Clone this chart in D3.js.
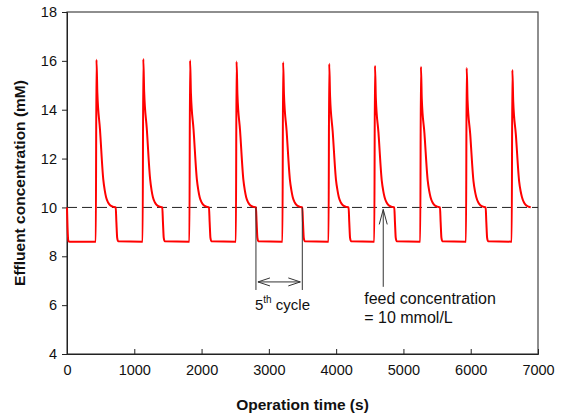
<!DOCTYPE html>
<html>
<head>
<meta charset="utf-8">
<script src="https://cdn.jsdelivr.net/npm/d3@7"></script>
<style>
  body { margin: 0; background: #fff; }
  svg { font-family: Arial, "Liberation Sans", sans-serif; }
</style>
</head>
<body>
<div id="chart"></div>
<script>
// effluent concentration (mM) vs operation time (s)
const effluent = [
  [0, 10.0], [8, 9.2], [20, 8.62], [40, 8.6],
  [428, 8.6], [438, 16.05], [451, 14.7], [490, 13.2], [539, 11.15], [561, 10.7], [581, 10.42], [611, 10.2], [641, 10.09], [681, 10.03], [724, 10.0], [734, 9.4], [746, 8.75], [759, 8.62],
  [1124, 8.6], [1134, 16.08], [1147, 14.73], [1186, 13.22], [1235, 11.17], [1257, 10.7], [1277, 10.42], [1307, 10.2], [1337, 10.09], [1377, 10.03], [1416, 10.0], [1426, 9.4], [1438, 8.75], [1451, 8.62],
  [1819, 8.6], [1829, 16.02], [1842, 14.67], [1881, 13.18], [1930, 11.15], [1952, 10.7], [1972, 10.42], [2002, 10.2], [2032, 10.09], [2072, 10.03], [2110, 10.0], [2120, 9.4], [2132, 8.75], [2145, 8.62],
  [2510, 8.6], [2520, 15.97], [2533, 14.62], [2572, 13.15], [2621, 11.14], [2643, 10.7], [2663, 10.42], [2693, 10.2], [2723, 10.09], [2763, 10.03], [2808, 10.0], [2818, 9.4], [2830, 8.75], [2843, 8.62],
  [3202, 8.6], [3212, 15.94], [3225, 14.6], [3264, 13.13], [3313, 11.13], [3335, 10.7], [3355, 10.42], [3385, 10.2], [3415, 10.09], [3455, 10.03], [3497, 10.0], [3507, 9.4], [3519, 8.75], [3532, 8.62],
  [3887, 8.6], [3897, 15.88], [3910, 14.55], [3949, 13.1], [3998, 11.12], [4020, 10.7], [4040, 10.42], [4070, 10.2], [4100, 10.09], [4140, 10.03], [4185, 10.0], [4195, 9.4], [4207, 8.75], [4220, 8.62],
  [4567, 8.6], [4577, 15.8], [4590, 14.48], [4629, 13.06], [4678, 11.1], [4700, 10.68], [4720, 10.42], [4750, 10.2], [4780, 10.09], [4820, 10.03], [4864, 10.0], [4874, 9.4], [4886, 8.75], [4899, 8.62],
  [5250, 8.6], [5260, 15.76], [5273, 14.44], [5312, 13.04], [5361, 11.1], [5383, 10.68], [5403, 10.42], [5433, 10.2], [5463, 10.09], [5503, 10.03], [5543, 10.0], [5553, 9.4], [5565, 8.75], [5578, 8.62],
  [5930, 8.6], [5940, 15.71], [5953, 14.4], [5992, 13.02], [6041, 11.08], [6063, 10.67], [6083, 10.42], [6113, 10.2], [6143, 10.09], [6183, 10.03], [6222, 10.0], [6232, 9.4], [6244, 8.75], [6257, 8.62],
  [6609, 8.6], [6619, 15.63], [6632, 14.33], [6671, 12.98], [6720, 11.06], [6742, 10.66], [6762, 10.42], [6792, 10.2], [6822, 10.09], [6862, 10.03], [6892, 10.01]
];
const feedConc = 10;
const xTicks = [0, 1000, 2000, 3000, 4000, 5000, 6000, 7000];
const yTicks = [4, 6, 8, 10, 12, 14, 16, 18];
const cycleBounds = [2808, 3497]; // 5th cycle
const feedArrowT = 4700;

const size = { width: 562, height: 414 };
const margin = { top: 12, right: 24, bottom: 60, left: 67 };
const font = "Arial, 'Liberation Sans', sans-serif";

const svg = d3.select("#chart").append("svg")
  .attr("width", size.width)
  .attr("height", size.height);

const x = d3.scaleLinear().domain([0, 7000]).range([margin.left, size.width - margin.right]);
const y = d3.scaleLinear().domain([4, 18]).range([size.height - margin.bottom, margin.top]);

// frame
svg.append("rect")
  .attr("x", x(0)).attr("y", y(18))
  .attr("width", x(7000) - x(0)).attr("height", y(4) - y(18))
  .attr("fill", "none").attr("stroke", "#444").attr("stroke-width", 1.2);

// axes
svg.append("g")
  .attr("transform", `translate(0,${y(4)})`)
  .call(d3.axisBottom(x).tickValues(xTicks).tickSize(-5).tickPadding(11).tickFormat(d3.format("d")))
  .call(g => g.select(".domain").attr("stroke", "#222"))
  .call(g => g.selectAll("line").attr("stroke", "#222"))
  .call(g => g.selectAll("text").attr("font-size", 14.5).attr("fill", "#111").attr("font-family", font));

svg.append("g")
  .attr("transform", `translate(${x(0)},0)`)
  .call(d3.axisLeft(y).tickValues(yTicks).tickSize(5).tickPadding(5))
  .call(g => g.select(".domain").attr("stroke", "#222"))
  .call(g => g.selectAll("line").attr("stroke", "#222"))
  .call(g => g.selectAll("text").attr("font-size", 14.5).attr("fill", "#111").attr("font-family", font));

// feed line
svg.append("line")
  .attr("x1", x(0)).attr("x2", x(7000))
  .attr("y1", y(feedConc)).attr("y2", y(feedConc))
  .attr("stroke", "#222").attr("stroke-width", 1)
  .attr("stroke-dasharray", "10,5");

// effluent curve
const line = d3.line()
  .x(d => x(d[0]))
  .y(d => y(d[1]))
  .curve(d3.curveMonotoneX);

svg.append("path")
  .datum(effluent)
  .attr("d", line)
  .attr("fill", "none")
  .attr("stroke", "#ff0000")
  .attr("stroke-width", 2)
  .attr("stroke-linejoin", "round");

// 5th cycle bracket
const ann = svg.append("g").attr("stroke", "#333").attr("stroke-width", 1).attr("fill", "none");
cycleBounds.forEach(t => {
  ann.append("line")
    .attr("x1", x(t)).attr("x2", x(t))
    .attr("y1", y(feedConc)).attr("y2", y(6.62));
});
const ay = y(6.95);
const xa = x(cycleBounds[0]) + 2, xb = x(cycleBounds[1]) - 2;
ann.append("line").attr("x1", xa).attr("x2", xb).attr("y1", ay).attr("y2", ay);
ann.append("path").attr("d", `M${xa + 12},${ay - 4}L${xa},${ay}L${xa + 12},${ay + 4}`);
ann.append("path").attr("d", `M${xb - 12},${ay - 4}L${xb},${ay}L${xb - 12},${ay + 4}`);

// feed arrow
const fx = x(feedArrowT);
ann.append("line").attr("x1", fx).attr("x2", fx).attr("y1", y(feedConc) + 2).attr("y2", y(6.75));
ann.append("path").attr("d", `M${fx - 4},${y(feedConc) + 17}L${fx},${y(feedConc) + 2}L${fx + 4},${y(feedConc) + 17}`);

// annotation text
const cyc = svg.append("text")
  .attr("x", x(cycleBounds[0]) - 1).attr("y", 310)
  .attr("font-size", 15).attr("fill", "#111");
cyc.append("tspan").text("5");
cyc.append("tspan").attr("font-size", 10).attr("dy", -7).text("th");
cyc.append("tspan").attr("dy", 7).text(" cycle");

svg.append("text")
  .attr("x", fx - 19).attr("y", 304)
  .attr("font-size", 16).attr("fill", "#111")
  .text("feed concentration");
svg.append("text")
  .attr("x", fx - 19).attr("y", 323)
  .attr("font-size", 16).attr("fill", "#111")
  .text("= 10 mmol/L");

// axis titles
svg.append("text")
  .attr("x", (x(0) + x(7000)) / 2).attr("y", 410)
  .attr("text-anchor", "middle")
  .attr("font-size", 15.5).attr("font-weight", "bold").attr("fill", "#111")
  .text("Operation time (s)");

svg.append("text")
  .attr("transform", `translate(25,${(y(4) + y(18)) / 2}) rotate(-90)`)
  .attr("text-anchor", "middle")
  .attr("font-size", 15.5).attr("font-weight", "bold").attr("fill", "#111")
  .text("Effluent concentration (mM)");
</script>
</body>
</html>
